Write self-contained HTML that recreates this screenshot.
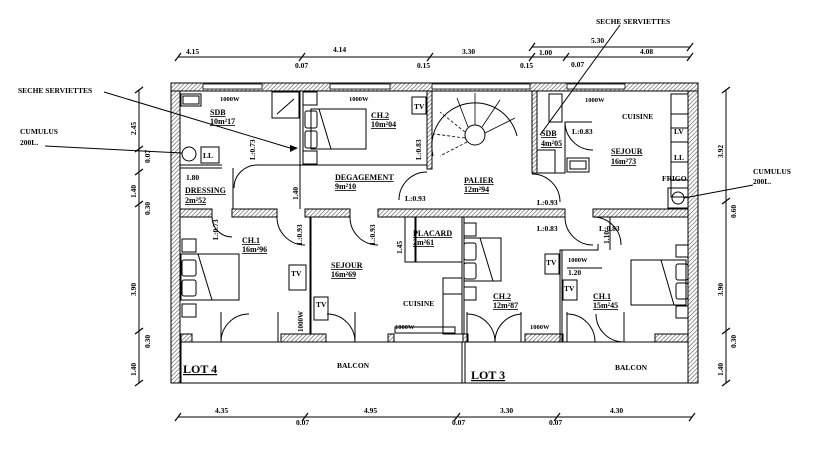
<!DOCTYPE html>
<html><head><meta charset="utf-8"><style>
html,body{margin:0;padding:0;background:#fff;width:814px;height:456px;overflow:hidden}
svg{display:block}
text{font-family:"Liberation Serif",serif;font-weight:bold;fill:#000}
</style></head><body>
<svg width="814" height="456" viewBox="0 0 814 456" xmlns="http://www.w3.org/2000/svg">
<defs>
<pattern id="h" width="3" height="3" patternUnits="userSpaceOnUse" patternTransform="rotate(45)">
<rect width="3" height="3" fill="#fff"/><line x1="0" y1="0" x2="0" y2="3" stroke="#555" stroke-width="1.2"/>
</pattern>
</defs>
<g stroke="#000" stroke-width="1">
<!-- outer walls -->
<rect x="171" y="83" width="9" height="300" fill="url(#h)"/>
<rect x="688" y="83" width="10" height="300" fill="url(#h)"/>
<rect x="171" y="83" width="527" height="8" fill="url(#h)"/>
<line x1="171" y1="383" x2="698" y2="383"/>
</g>
<!-- windows top -->
<g fill="#fff" stroke="#000" stroke-width="0.8">
<rect x="203" y="84" width="59" height="5"/>
<rect x="330" y="84" width="60" height="5"/>
<rect x="432" y="84" width="98" height="5"/>
<rect x="567" y="84" width="58" height="5"/>
</g>
<g stroke="#000" stroke-width="1" fill="url(#h)">
<!-- horizontal interior wall -->
<rect x="180" y="209" width="32" height="8"/>
<rect x="232" y="209" width="45" height="8"/>
<rect x="305" y="209" width="45" height="8"/>
<rect x="378" y="209" width="187" height="8"/>
<rect x="593" y="209" width="95" height="8"/>
<!-- bottom walls near balcony -->
<rect x="181" y="334" width="11" height="8"/>
<rect x="281" y="334" width="45" height="8"/>
<rect x="388" y="334" width="6" height="8"/>
<rect x="463" y="334" width="5" height="8"/>
<rect x="525" y="334" width="38" height="8"/>
<rect x="655" y="334" width="33" height="8"/>
<!-- partitions top -->
<rect x="427" y="91" width="5" height="78"/>
<rect x="532" y="91" width="5" height="82"/>
<rect x="300" y="91" width="3" height="74" fill="#fff"/>
</g>
<g stroke="#000" stroke-width="1" fill="none">
<line x1="180" y1="342" x2="688" y2="342"/>
<line x1="181" y1="342" x2="181" y2="383"/>
<line x1="462" y1="342" x2="462" y2="383"/>
<line x1="465" y1="342" x2="465" y2="383"/>
<!-- SDB / CH2 -->
<polyline points="180,165 222,165"/>
<polyline points="180,168 222,168"/>
<polyline points="257,165 427,165 427,169"/>
<line x1="233" y1="168" x2="233" y2="209"/>
<line x1="310" y1="217" x2="310" y2="334"/>
<line x1="311" y1="217" x2="311" y2="334"/>
<!-- SDB2 -->
<polyline points="537,173 565,173 565,122 592,122"/>
<rect x="549" y="94" width="13" height="28"/>
<rect x="567" y="158" width="22" height="14"/>
<rect x="570" y="161" width="16" height="8"/>
<rect x="537" y="150" width="18" height="23"/>
<!-- placard -->
<rect x="405" y="217" width="10" height="45"/>
<rect x="415" y="217" width="47" height="45"/>
<line x1="462" y1="217" x2="462" y2="334"/>
<line x1="464" y1="217" x2="464" y2="334"/>
<rect x="443" y="278" width="19" height="16"/>
<rect x="443" y="294" width="19" height="40"/>
<rect x="395" y="327" width="60" height="6"/>
<!-- CH2/CH1 lot3 -->
<polyline points="560,342 560,250 598,250 598,244"/>
<line x1="562" y1="250" x2="562" y2="342"/>
<!-- kitchen right -->
<rect x="671" y="94" width="17" height="20"/>
<rect x="671" y="114" width="17" height="14"/>
<rect x="671" y="128" width="17" height="14"/>
<rect x="671" y="142" width="17" height="20"/>
<rect x="671" y="162" width="17" height="18"/>
<rect x="671" y="180" width="17" height="17"/>
<rect x="668" y="188" width="20" height="20"/>
<circle cx="678" cy="198" r="6"/>
<!-- SDB left fixtures -->
<rect x="181" y="94" width="20" height="12"/>
<rect x="183" y="96" width="16" height="8"/>
<circle cx="189" cy="154" r="7"/>
<rect x="201" y="147" width="18" height="16"/>
<rect x="272" y="92" width="27" height="26"/>
<line x1="277" y1="114" x2="294" y2="99"/>
<!-- CH2 bed -->
<rect x="311" y="109" width="55" height="40"/>
<line x1="319" y1="109" x2="331" y2="149"/>
<rect x="303" y="92" width="14" height="13"/>
<rect x="305" y="111" width="12" height="17" rx="2"/>
<rect x="305" y="131" width="12" height="17" rx="2"/>
<rect x="303" y="151" width="14" height="13"/>
<rect x="412" y="97" width="14" height="17"/>
<!-- CH1 lot4 bed -->
<rect x="181" y="254" width="58" height="46"/>
<line x1="198" y1="254" x2="212" y2="300"/>
<rect x="182" y="239" width="14" height="13"/>
<rect x="182" y="260" width="14" height="16" rx="2"/>
<rect x="182" y="280" width="14" height="16" rx="2"/>
<rect x="182" y="304" width="14" height="13"/>
<rect x="289" y="265" width="17" height="25"/>
<rect x="314" y="297" width="14" height="23"/>
<line x1="221" y1="312" x2="221" y2="342"/>
<line x1="278" y1="312" x2="278" y2="342"/>
<line x1="355" y1="312" x2="355" y2="342"/>
<!-- CH2 lot3 bed -->
<rect x="464" y="238" width="37" height="43"/>
<line x1="480" y1="238" x2="493" y2="281"/>
<rect x="464" y="223" width="12" height="13"/>
<rect x="464" y="243" width="12" height="17" rx="2"/>
<rect x="464" y="263" width="12" height="16" rx="2"/>
<rect x="464" y="287" width="12" height="13"/>
<rect x="545" y="254" width="14" height="20"/>
<rect x="563" y="280" width="14" height="20"/>
<line x1="467" y1="312" x2="467" y2="342"/>
<line x1="521" y1="312" x2="521" y2="342"/>
<line x1="567" y1="312" x2="567" y2="342"/>
<line x1="624" y1="312" x2="624" y2="342"/>
<!-- CH1 lot3 bed -->
<rect x="631" y="260" width="55" height="45"/>
<line x1="661" y1="260" x2="674" y2="305"/>
<rect x="676" y="245" width="12" height="12"/>
<rect x="676" y="264" width="12" height="16" rx="2"/>
<rect x="676" y="283" width="12" height="16" rx="2"/>
<rect x="676" y="306" width="12" height="12"/>
<!-- doors arcs -->
<path d="M257,165 A23,23 0 0 0 234,188"/>
<path d="M399,200 A28,28 0 0 1 427,172"/>
<path d="M532,174 A28,28 0 0 1 560,202"/>
<path d="M565,122 A28,28 0 0 0 593,150"/>
<path d="M212,217 A20,20 0 0 0 232,237"/>
<path d="M277,217 A28,28 0 0 0 305,245"/>
<path d="M350,217 A28,28 0 0 0 378,245"/>
<path d="M565,217 A28,28 0 0 0 593,245" />
<path d="M593,217 A28,28 0 0 1 621,245"/>
<path d="M221,342 A28,28 0 0 1 249,314"/>
<path d="M327,314 A28,28 0 0 1 355,342"/>
<path d="M467,314 A28,28 0 0 1 495,342"/>
<path d="M495,342 A28,28 0 0 1 521,314"/>
<path d="M567,314 A28,28 0 0 1 595,342"/>
<path d="M596,314 A28,28 0 0 0 624,342"/>
<!-- stair -->
<path d="M433,156 A42,42 0 1 1 517,136"/>
<circle cx="475" cy="135" r="10"/>
<g stroke-width="0.8">
<line x1="475" y1="125" x2="475" y2="93"/>
<line x1="482" y1="127" x2="500" y2="100"/>
<line x1="485" y1="133" x2="515" y2="118"/>
<line x1="468" y1="127" x2="457" y2="98"/>
<line x1="465" y1="132" x2="440" y2="112" stroke-dasharray="3,2"/>
<line x1="465" y1="138" x2="434" y2="134" stroke-dasharray="3,2"/>
<line x1="467" y1="142" x2="440" y2="156" stroke-dasharray="3,2"/>
</g>
<!-- dimension lines -->
<line x1="178" y1="57" x2="690" y2="57"/>
<line x1="532" y1="47" x2="690" y2="47"/>
<line x1="178" y1="417" x2="692" y2="417"/>
<line x1="139" y1="90" x2="139" y2="383"/>
<line x1="726" y1="90" x2="726" y2="383"/>
<!-- leaders -->
<line x1="104" y1="92" x2="290" y2="148"/>
<line x1="45" y1="146" x2="182" y2="153"/>
<line x1="620" y1="25" x2="540" y2="135"/>
<line x1="753" y1="185" x2="684" y2="198"/>
<line x1="300" y1="165" x2="300" y2="209"/>
<line x1="610" y1="217" x2="610" y2="250"/>
<line x1="567" y1="268" x2="602" y2="268"/>
<line x1="416" y1="217" x2="416" y2="262"/>
</g>
<polygon points="290,145 298,148 290,152" fill="#000"/>
<!-- ticks -->
<g stroke="#000" stroke-width="1.2">
<line x1="175" y1="61" x2="181" y2="53"/><line x1="299" y1="61" x2="305" y2="53"/>
<line x1="427" y1="61" x2="433" y2="53"/><line x1="529" y1="61" x2="535" y2="53"/>
<line x1="563" y1="61" x2="569" y2="53"/><line x1="687" y1="61" x2="693" y2="53"/>
<line x1="529" y1="51" x2="535" y2="43"/><line x1="687" y1="51" x2="693" y2="43"/>
<line x1="175" y1="421" x2="181" y2="413"/><line x1="302" y1="421" x2="308" y2="413"/>
<line x1="454" y1="421" x2="460" y2="413"/><line x1="554" y1="421" x2="560" y2="413"/>
<line x1="689" y1="421" x2="695" y2="413"/>
<line x1="135" y1="93" x2="143" y2="87"/><line x1="135" y1="152" x2="143" y2="146"/>
<line x1="135" y1="175" x2="143" y2="169"/><line x1="135" y1="207" x2="143" y2="201"/>
<line x1="135" y1="334" x2="143" y2="328"/><line x1="135" y1="386" x2="143" y2="380"/>
<line x1="722" y1="93" x2="730" y2="87"/><line x1="722" y1="204" x2="730" y2="198"/>
<line x1="722" y1="334" x2="730" y2="328"/><line x1="722" y1="386" x2="730" y2="380"/>
</g>
<g font-size="7.5">
<text x="186" y="54">4.15</text><text x="333" y="52">4.14</text><text x="462" y="54">3.30</text>
<text x="539" y="55">1.00</text><text x="591" y="43">5.30</text><text x="640" y="54">4.08</text>
<text x="295" y="68">0.07</text><text x="417" y="68">0.15</text><text x="520" y="68">0.15</text><text x="571" y="67">0.07</text>
<text x="215" y="413">4.35</text><text x="364" y="413">4.95</text><text x="500" y="413">3.30</text><text x="610" y="413">4.30</text>
<text x="296" y="425">0.07</text><text x="452" y="425">0.07</text><text x="549" y="425">0.07</text>
<text x="18" y="93">SECHE SERVIETTES</text>
<text x="20" y="134">CUMULUS</text><text x="20" y="145">200L.</text>
<text x="596" y="24">SECHE SERVIETTES</text>
<text x="753" y="174">CUMULUS</text><text x="753" y="184">200L.</text>
<text transform="translate(136,135) rotate(-90)">2.45</text>
<text transform="translate(150,163) rotate(-90)">0.07</text>
<text transform="translate(136,198) rotate(-90)">1.40</text>
<text transform="translate(150,215) rotate(-90)">0.30</text>
<text transform="translate(136,296) rotate(-90)">3.90</text>
<text transform="translate(150,348) rotate(-90)">0.30</text>
<text transform="translate(136,376) rotate(-90)">1.40</text>
<text transform="translate(723,158) rotate(-90)">3.92</text>
<text transform="translate(736,218) rotate(-90)">0.60</text>
<text transform="translate(723,296) rotate(-90)">3.90</text>
<text transform="translate(736,348) rotate(-90)">0.30</text>
<text transform="translate(723,376) rotate(-90)">1.40</text>
<text transform="translate(298,200) rotate(-90)">1.40</text>
<text transform="translate(255,160) rotate(-90)">L:0.73</text>
<text transform="translate(421,160) rotate(-90)">L:0.83</text>
<text transform="translate(218,240) rotate(-90)">L:0.73</text>
<text transform="translate(302,245) rotate(-90)">L:0.93</text>
<text transform="translate(375,245) rotate(-90)">L:0.93</text>
<text transform="translate(402,254) rotate(-90)">1.45</text>
<text transform="translate(609,244) rotate(-90)">1.10</text>
<text transform="translate(303,332) rotate(-90)" font-size="7">1000W</text>
<text x="405" y="201">L:0.93</text><text x="537" y="205">L:0.93</text>
<text x="572" y="134">L:0.83</text><text x="537" y="231">L:0.83</text><text x="599" y="231">L:0.83</text>
<text x="568" y="275">1.20</text>
<text x="186" y="180">1.80</text>
<text x="220" y="101" font-size="6.5">1000W</text><text x="349" y="101" font-size="6.5">1000W</text>
<text x="585" y="102" font-size="6.5">1000W</text><text x="395" y="329" font-size="6.5">1000W</text>
<text x="530" y="329" font-size="6.5">1000W</text><text x="568" y="262" font-size="6.5">1000W</text>
<text x="622" y="119">CUISINE</text><text x="403" y="306">CUISINE</text>
<text x="674" y="134">LV</text><text x="674" y="160">LL</text><text x="662" y="181">FRIGO</text>
<text x="203" y="158">LL</text>
<text x="414" y="109">TV</text><text x="291" y="276">TV</text><text x="316" y="307">TV</text>
<text x="546" y="265">TV</text><text x="564" y="291">TV</text>
<text x="337" y="368">BALCON</text><text x="615" y="370">BALCON</text>
</g>
<g font-size="8" text-decoration="underline">
<text x="210" y="115">SDB</text><text x="210" y="124">10m²17</text>
<text x="371" y="118">CH.2</text><text x="371" y="127">10m²04</text>
<text x="335" y="180">DEGAGEMENT</text><text x="335" y="189">9m²10</text>
<text x="464" y="183">PALIER</text><text x="464" y="192">12m²94</text>
<text x="541" y="136">SDB</text><text x="541" y="146">4m²05</text>
<text x="611" y="154">SEJOUR</text><text x="611" y="164">16m²73</text>
<text x="185" y="193">DRESSING</text><text x="185" y="203">2m²52</text>
<text x="242" y="243">CH.1</text><text x="242" y="252">16m²96</text>
<text x="331" y="268">SEJOUR</text><text x="331" y="277">16m²69</text>
<text x="413" y="236">PLACARD</text><text x="413" y="245">2m²61</text>
<text x="493" y="299">CH.2</text><text x="493" y="308">12m²87</text>
<text x="593" y="299">CH.1</text><text x="593" y="308">15m²45</text>
</g>
<g font-size="12" text-decoration="underline">
<text x="183" y="373">LOT 4</text><text x="471" y="379">LOT 3</text>
</g>
</svg>
</body></html>
